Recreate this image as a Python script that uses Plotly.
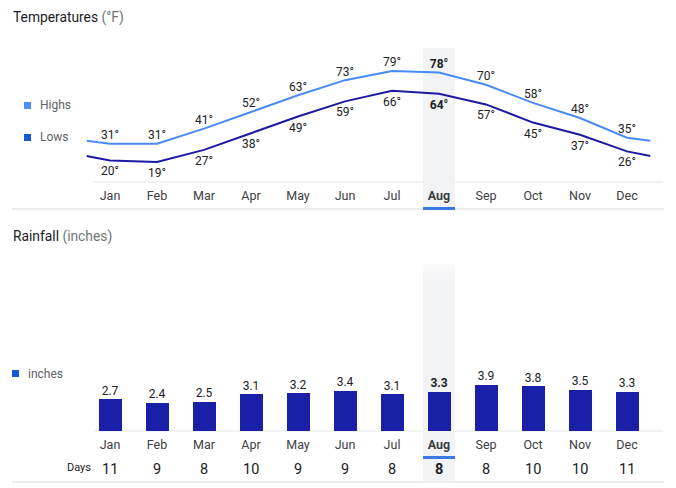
import plotly.graph_objects as go

# Data
months = ["Jan", "Feb", "Mar", "Apr", "May", "Jun",
          "Jul", "Aug", "Sep", "Oct", "Nov", "Dec"]
highs = [31, 31, 41, 52, 63, 73, 79, 78, 70, 58, 48, 35]
lows = [20, 19, 27, 38, 49, 59, 66, 64, 57, 45, 37, 26]
# values where the lines meet the chart edges (year wraps round)
highs_edge = 33
lows_edge = 23
rainfall = [2.7, 2.4, 2.5, 3.1, 3.2, 3.4, 3.1, 3.3, 3.9, 3.8, 3.5, 3.3]
rain_days = [11, 9, 8, 10, 9, 9, 8, 8, 8, 10, 10, 11]
selected = "Aug"

W, H = 676, 488
FONT = "Roboto"
DARK = "#202124"
GREY = "#5f6368"
HIGH_COL = "#4a8af4"
LOW_COL = "#1c1aa3"
BAR_COL = "#1a1fa8"
BAND = "#f1f3f4"


def px(x):
    return x / W


def py(y):
    return 1 - y / H


sel = months.index(selected)
xs = list(range(len(months)))


def lab(v, i, suffix=""):
    s = f"{v}{suffix}"
    return f"<b>{s}</b>" if i == sel else s


fig = go.Figure()

# Temperatures (invisible markers only push the labels away from the line)
fig.add_trace(go.Scatter(
    x=[-0.5] + xs + [11.5], y=[highs_edge] + highs + [highs_edge],
    mode="lines+markers+text", line=dict(color=HIGH_COL, width=2),
    marker=dict(size=1, opacity=0),
    text=[""] + [lab(v, i, "°") for i, v in enumerate(highs)] + [""],
    textposition="top center", textfont=dict(family=FONT, size=12, color=DARK),
    xaxis="x", yaxis="y", hoverinfo="skip", cliponaxis=False))
fig.add_trace(go.Scatter(
    x=[-0.5] + xs + [11.5], y=[lows_edge] + lows + [lows_edge],
    mode="lines+markers+text", line=dict(color=LOW_COL, width=2),
    marker=dict(size=8, opacity=0),
    text=[""] + [lab(v, i, "°") for i, v in enumerate(lows)] + [""],
    textposition="bottom center", textfont=dict(family=FONT, size=12, color=DARK),
    xaxis="x", yaxis="y", hoverinfo="skip", cliponaxis=False))

# Rainfall
fig.add_trace(go.Bar(
    x=xs, y=rainfall, marker=dict(color=BAR_COL, line=dict(width=0)),
    width=0.51, xaxis="x2", yaxis="y2", hoverinfo="skip"))
fig.add_trace(go.Scatter(
    x=xs, y=rainfall, mode="markers+text", marker=dict(size=1, opacity=0),
    text=[lab(v, i) for i, v in enumerate(rainfall)],
    textposition="top center", textfont=dict(family=FONT, size=12, color=DARK),
    xaxis="x2", yaxis="y2", hoverinfo="skip", cliponaxis=False))

ticktext = [f"<b>{m}</b>" if i == sel else m for i, m in enumerate(months)]
xcommon = dict(range=[-0.5, 11.5], domain=[px(86.5), px(650.5)],
               tickvals=xs, ticktext=ticktext, showgrid=False, zeroline=False,
               showline=False, ticks="outside", ticklen=2,
               tickcolor="rgba(0,0,0,0)",
               tickfont=dict(family=FONT, size=12.5, color="#3c4043"),
               fixedrange=True)

shapes = []
annotations = []

for base, sep, top, under in [(182, 209, 48, 207), (431, 482, 280, 456)]:
    # highlight band for the selected month
    shapes.append(dict(type="rect", xref="x", yref="paper",
                       x0=sel - 0.34, x1=sel + 0.34, y0=py(sep - 1), y1=py(top),
                       fillcolor=BAND, line=dict(width=0), layer="below"))
    # faint baseline
    shapes.append(dict(type="line", xref="paper", yref="paper",
                       x0=px(94), x1=px(663), y0=py(base), y1=py(base),
                       line=dict(color="#f1f3f4", width=2), layer="below"))
    # separator
    shapes.append(dict(type="line", xref="paper", yref="paper",
                       x0=px(12), x1=px(664), y0=py(sep), y1=py(sep),
                       line=dict(color="#dadce0", width=1)))
    # blue marker under selected month
    shapes.append(dict(type="rect", xref="x", yref="paper",
                       x0=sel - 0.34, x1=sel + 0.34, y0=py(under + 3), y1=py(under),
                       fillcolor="#3b78e7", line=dict(width=0)))

# fade at the top of the rainfall band
for top in [264, 268, 272, 276]:
    shapes.append(dict(type="rect", xref="x", yref="paper",
                       x0=sel - 0.34, x1=sel + 0.34, y0=py(280), y1=py(top),
                       fillcolor=BAND, opacity=0.3, line=dict(width=0),
                       layer="below"))

# legend squares
for y0, col in [(102, "#4b8ef5"), (134, "#1558d6")]:
    shapes.append(dict(type="rect", xref="paper", yref="paper",
                       x0=px(24), x1=px(31), y0=py(y0 + 7), y1=py(y0),
                       fillcolor=col, line=dict(width=0)))
shapes.append(dict(type="rect", xref="paper", yref="paper",
                   x0=px(12), x1=px(19), y0=py(377), y1=py(370),
                   fillcolor="#1558d6", line=dict(width=0)))

for text, x, y in [("Highs", 38, 105.5), ("Lows", 38, 137.5), ("inches", 26, 374)]:
    annotations.append(dict(text=text, xref="paper", yref="paper",
                            x=px(x), y=py(y), xanchor="left", yanchor="middle",
                            showarrow=False,
                            font=dict(family=FONT, size=12, color=GREY)))

for text, y in [("Temperatures <span style='color:#70757a'>(°F)</span>", 17),
                ("Rainfall <span style='color:#70757a'>(inches)</span>", 236)]:
    annotations.append(dict(text=text, xref="paper", yref="paper",
                            x=px(11), y=py(y), xanchor="left", yanchor="middle",
                            showarrow=False,
                            font=dict(family=FONT, size=13.8, color=DARK)))

# rain days row
annotations.append(dict(text="Days", xref="paper", yref="paper",
                        x=px(93), y=py(467), xanchor="right", yanchor="middle",
                        showarrow=False, font=dict(family=FONT, size=11, color=DARK)))
for i, d in enumerate(rain_days):
    annotations.append(dict(text=lab(d, i), xref="x2", yref="paper",
                            x=i, y=py(469), xanchor="center", yanchor="middle",
                            showarrow=False,
                            font=dict(family=FONT, size=14.5, color=DARK)))

fig.update_layout(
    width=W, height=H, autosize=False,
    margin=dict(l=0, r=0, t=0, b=0),
    paper_bgcolor="white", plot_bgcolor="rgba(0,0,0,0)",
    showlegend=False, bargap=0,
    xaxis=dict(xcommon, anchor="y"),
    xaxis2=dict(xcommon, anchor="y2"),
    yaxis=dict(range=[5.8, 99.5], domain=[py(182), py(40)], visible=False,
               fixedrange=True),
    yaxis2=dict(range=[0, 13.9], domain=[py(431), py(267)], visible=False,
                fixedrange=True),
    shapes=shapes, annotations=annotations,
)

fig.write_html("out.html", config={"displayModeBar": False},
               post_script="document.body.style.margin='0';")
